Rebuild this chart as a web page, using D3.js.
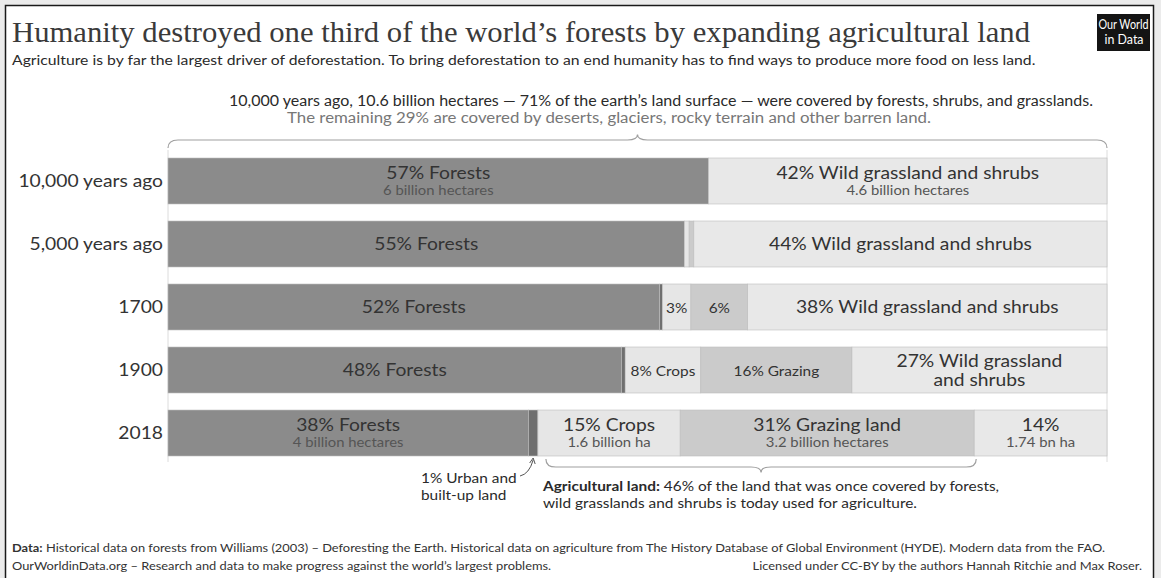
<!DOCTYPE html>
<html>
<head>
<meta charset="utf-8">
<script src="https://cdn.jsdelivr.net/npm/d3@7"></script>
<style>
  html, body { margin: 0; padding: 0; background: #ebebeb; }
  svg { display: block; }
  text { font-family: Lato, "Open Sans", sans-serif; }
</style>
</head>
<body>
<svg id="chart" width="1161" height="578"></svg>
<script>
// Share of the once-vegetated land (forests, shrubs, grasslands) by use, in %
const periods  = ["10,000 years ago", "5,000 years ago", "1700", "1900", "2018"];
const forests  = [57, 55, 52, 48, 38];
const urban    = [0, 0, 0.3, 0.4, 1];
const crops    = [0, 0.5, 3, 8, 15];
const grazing  = [0, 0.5, 6, 16, 31];
const wild     = [42, 44, 38, 27, 14];

// Text written inside each segment (main line, small second line)
const forestLabels  = ["57% Forests", "55% Forests", "52% Forests", "48% Forests", "38% Forests"];
const forestNotes   = ["6 billion hectares", "", "", "", "4 billion hectares"];
const cropLabels    = ["", "", "3%", "8% Crops", "15% Crops"];
const cropNotes     = ["", "", "", "", "1.6 billion ha"];
const grazingLabels = ["", "", "6%", "16% Grazing", "31% Grazing land"];
const grazingNotes  = ["", "", "", "", "3.2 billion hectares"];
const wildLabels    = ["42% Wild grassland and shrubs", "44% Wild grassland and shrubs",
                       "38% Wild grassland and shrubs", "27% Wild grassland|and shrubs", "14%"];
const wildNotes     = ["4.6 billion hectares", "", "", "", "1.74 bn ha"];

const keys = ["forests", "urban", "crops", "grazing", "wild"];
const colors = {
  forests: "#8b8b8b",
  urban:   "#6f6f6f",
  crops:   "#e6e6e6",
  grazing: "#cbcbcb",
  wild:    "#e8e8e8"
};
const labelSets = {
  forests: [forestLabels, forestNotes],
  crops:   [cropLabels, cropNotes],
  grazing: [grazingLabels, grazingNotes],
  wild:    [wildLabels, wildNotes]
};

const rows = periods.map((p, i) => ({
  period: p, forests: forests[i], urban: urban[i], crops: crops[i],
  grazing: grazing[i], wild: wild[i]
}));

const svg = d3.select("#chart");

// Frame
svg.append("rect")
  .attr("x", 5.5).attr("y", 5.5).attr("width", 1148).attr("height", 600)
  .attr("fill", "#ffffff").attr("stroke", "#1a1a1a").attr("stroke-width", 1.5);

// Title and subtitle
svg.append("text")
  .attr("x", 12).attr("y", 42)
  .style("font-family", "'Liberation Serif', 'DejaVu Serif', serif")
  .attr("font-size", 29).attr("fill", "#3a3a3a")
  .attr("textLength", 1018).attr("lengthAdjust", "spacingAndGlyphs")
  .text("Humanity destroyed one third of the world’s forests by expanding agricultural land");
svg.append("text")
  .attr("x", 12).attr("y", 65)
  .attr("font-size", 14.3).attr("fill", "#2a2a2a")
  .text("Agriculture is by far the largest driver of deforestation. To bring deforestation to an end humanity has to find ways to produce more food on less land.");

// Logo
svg.append("rect").attr("x", 1097).attr("y", 14).attr("width", 53).attr("height", 37).attr("fill", "#141414");
svg.append("text").attr("x", 1123.5).attr("y", 29).attr("text-anchor", "middle")
  .attr("font-size", 13).attr("fill", "#ffffff")
  .attr("textLength", 50).attr("lengthAdjust", "spacingAndGlyphs").text("Our World");
svg.append("text").attr("x", 1124).attr("y", 44).attr("text-anchor", "middle")
  .attr("font-size", 13).attr("fill", "#ffffff")
  .attr("textLength", 39).attr("lengthAdjust", "spacingAndGlyphs").text("in Data");

// Scales
const x = d3.scaleLinear().domain([0, 1]).range([168, 1107]);
const y = d3.scaleBand().domain(periods).range([158, 456]).paddingInner(0.27).paddingOuter(0);

const series = d3.stack().keys(keys).offset(d3.stackOffsetExpand)(rows);

// Faint guide lines at both ends of the bars
[0, 1].forEach(v => {
  svg.append("line")
    .attr("x1", x(v)).attr("x2", x(v)).attr("y1", 150).attr("y2", 462)
    .attr("stroke", "#dcdcdc").attr("stroke-width", 1);
});

// Category axis
const yAxis = svg.append("g")
  .attr("transform", `translate(${x(0) - 4},0)`)
  .call(d3.axisLeft(y).tickSize(0).tickPadding(1));
yAxis.select(".domain").remove();
yAxis.selectAll("text")
  .style("font-family", "Lato, sans-serif")
  .attr("font-size", 17.5).attr("fill", "#333");

// Stacked segments
const layer = svg.append("g").selectAll("g").data(series).join("g")
  .attr("fill", d => colors[d.key]);
layer.selectAll("rect").data(d => d).join("rect")
  .attr("x", d => x(d[0]))
  .attr("y", d => y(d.data.period))
  .attr("width", d => Math.max(0, x(d[1]) - x(d[0])))
  .attr("height", y.bandwidth())
  .attr("stroke", "#bdbdbd").attr("stroke-width", 0.6);

// Segment labels
series.forEach(s => {
  const set = labelSets[s.key];
  if (!set) return;
  s.forEach((d, i) => {
    const main = set[0][i], note = set[1][i];
    if (!main) return;
    const cx = (x(d[0]) + x(d[1])) / 2;
    const cy = y(d.data.period) + y.bandwidth() / 2;
    const lines = main.split("|");
    if (note) {
      svg.append("text").attr("x", cx).attr("y", cy - 2).attr("text-anchor", "middle")
        .attr("font-size", 17.5).attr("fill", "#333").text(main);
      svg.append("text").attr("x", cx).attr("y", cy + 14).attr("text-anchor", "middle")
        .attr("font-size", 13.5).attr("fill", "#555").text(note);
    } else if (lines.length > 1) {
      lines.forEach((t, j) => {
        svg.append("text").attr("x", cx).attr("y", cy - 3 + j * 19).attr("text-anchor", "middle")
          .attr("font-size", 17.5).attr("fill", "#333").text(t);
      });
    } else {
      const small = s.key !== "wild" && s.key !== "forests";
      svg.append("text").attr("x", cx).attr("y", cy + 6).attr("text-anchor", "middle")
        .attr("font-size", small ? 14 : 17.5).attr("fill", "#333").text(main);
    }
  });
});

// Curly brace helper: horizontal brace from x1 to x2, line at yLine, tip towards dir
function brace(x1, x2, yLine, h, dir) {
  const xm = (x1 + x2) / 2;
  const e = dir * -h * 0.9;   // ends bend away from the tip
  const t = dir * h * 0.6;    // tip
  return `M${x1},${yLine + e} Q${x1},${yLine} ${x1 + 10},${yLine}` +
         ` L${xm - 10},${yLine} Q${xm},${yLine} ${xm},${yLine + t}` +
         ` Q${xm},${yLine} ${xm + 10},${yLine} L${x2 - 10},${yLine}` +
         ` Q${x2},${yLine} ${x2},${yLine + e}`;
}

// Top annotation
svg.append("text").attr("x", 661).attr("y", 106).attr("text-anchor", "middle")
  .attr("font-size", 14.5).attr("fill", "#2a2a2a")
  .attr("textLength", 864).attr("lengthAdjust", "spacingAndGlyphs")
  .text("10,000 years ago, 10.6 billion hectares — 71% of the earth’s land surface — were covered by forests, shrubs, and grasslands.");
svg.append("text").attr("x", 609).attr("y", 123).attr("text-anchor", "middle")
  .attr("font-size", 14.5).attr("fill", "#777")
  .attr("textLength", 644).attr("lengthAdjust", "spacingAndGlyphs")
  .text("The remaining 29% are covered by deserts, glaciers, rocky terrain and other barren land.");
svg.append("path").attr("d", brace(x(0), x(1), 140, 9, -1))
  .attr("fill", "none").attr("stroke", "#a0a0a0").attr("stroke-width", 1.2);

// Bottom annotation: agricultural land brace
const last = rows.length - 1;
const agStart = series[2][last][0], agEnd = series[3][last][1];
svg.append("path").attr("d", brace(x(agStart) + 8, x(agEnd) + 2, 467, 9, 1))
  .attr("fill", "none").attr("stroke", "#a0a0a0").attr("stroke-width", 1.2);

const agText = svg.append("text").attr("x", 543).attr("y", 491).attr("font-size", 14).attr("fill", "#2a2a2a");
agText.append("tspan").attr("font-weight", "bold").text("Agricultural land:");
agText.append("tspan").text(" 46% of the land that was once covered by forests,");
svg.append("text").attr("x", 543).attr("y", 508).attr("font-size", 14).attr("fill", "#2a2a2a")
  .text("wild grasslands and shrubs is today used for agriculture.");

// Urban note with a curved pointer
svg.append("text").attr("x", 421).attr("y", 483).attr("font-size", 14).attr("fill", "#2a2a2a").text("1% Urban and");
svg.append("text").attr("x", 421).attr("y", 500).attr("font-size", 14).attr("fill", "#2a2a2a").text("built-up land");
const ux = (x(series[1][last][0]) + x(series[1][last][1])) / 2;
svg.append("path")
  .attr("d", `M520,476 Q${ux - 4},474 ${ux},460`)
  .attr("fill", "none").attr("stroke", "#555").attr("stroke-width", 1);
svg.append("path")
  .attr("d", `M${ux - 3.5},463 L${ux},458 L${ux + 2},464`)
  .attr("fill", "none").attr("stroke", "#555").attr("stroke-width", 1);

// Footer
const f1 = svg.append("text").attr("x", 12).attr("y", 552).attr("font-size", 11.7).attr("fill", "#333");
f1.append("tspan").attr("font-weight", "bold").text("Data:");
f1.append("tspan").text(" Historical data on forests from Williams (2003) – Deforesting the Earth. Historical data on agriculture from The History Database of Global Environment (HYDE). Modern data from the FAO.");
svg.append("text").attr("x", 12).attr("y", 570).attr("font-size", 11.7).attr("fill", "#333")
  .text("OurWorldinData.org – Research and data to make progress against the world’s largest problems.");
svg.append("text").attr("x", 1142).attr("y", 570).attr("text-anchor", "end").attr("font-size", 11.7).attr("fill", "#333")
  .text("Licensed under CC-BY by the authors Hannah Ritchie and Max Roser.");

// The type is set slightly wide: stretch every remaining text horizontally by 10%
svg.selectAll("text").each(function () {
  if (this.hasAttribute("textLength")) return;
  const w = this.getComputedTextLength();
  d3.select(this).attr("textLength", w * 1.1).attr("lengthAdjust", "spacingAndGlyphs");
});
</script>
</body>
</html>
